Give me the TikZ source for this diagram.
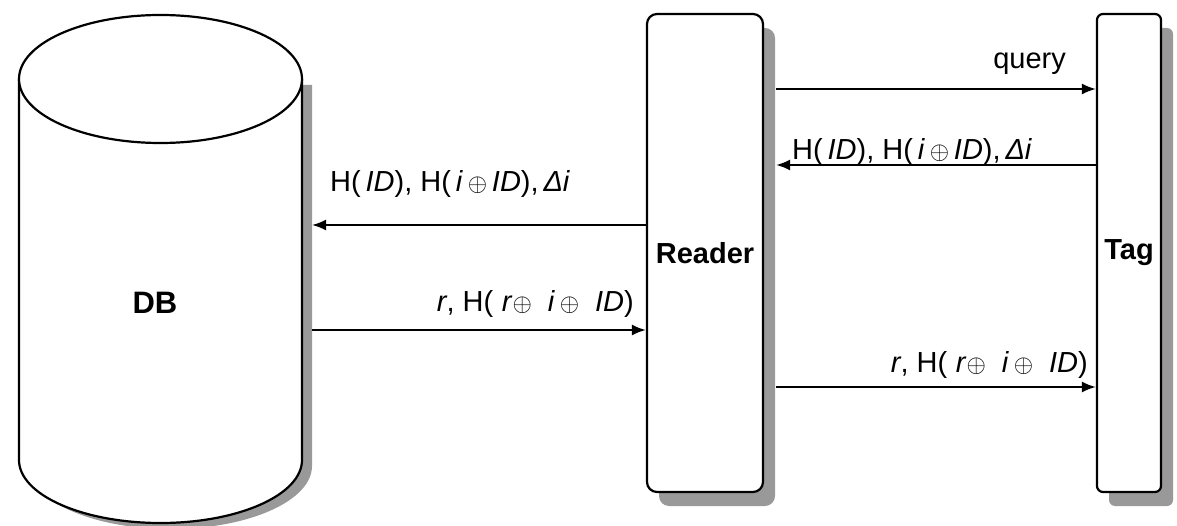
\documentclass[tikz,border=0pt]{standalone}
\usepackage{fontspec}
\setmainfont{Liberation Sans}
\usepackage{tikz}
\usetikzlibrary{positioning,calc,arrows.meta,shadows}

\tikzset{
    unit/.style={draw, line width=2.2pt, fill=white, minimum height=478pt, inner sep=0pt,
        font=\fontsize{29}{34}\selectfont\bfseries,
        drop shadow={shadow xshift=12pt, shadow yshift=-14pt, fill=black!40, opacity=1}},
    msg/.style={line width=2pt, -{Latex[length=14pt,width=11pt]}},
    lbl/.style={font=\fontsize{29}{34}\selectfont, inner sep=0pt}
}
\newcommand{\xo}{\,$\oplus$\,}
\newcommand{\gap}{\hspace{0.55em}}

\begin{document}
\begin{tikzpicture}[x=1pt,y=-1pt]
    \useasboundingbox (0,0) rectangle (1177,526);

    % database cylinder (shadow first)
    \fill[black!40, xshift=10pt, yshift=-6pt] (19,79) -- (19,460)
        arc[start angle=180, end angle=360, x radius=141.5pt, y radius=63pt] -- (302,79) -- cycle;
    \filldraw[fill=white, line width=2.2pt] (19,79) -- (19,460)
        arc[start angle=180, end angle=360, x radius=141.5pt, y radius=63pt] -- (302,79);
    \draw[line width=2.2pt, fill=white] (160.5,79) ellipse[x radius=141.5pt, y radius=64pt];
    \node[font=\fontsize{31}{36}\selectfont\bfseries] (db) at (155,303) {DB};
    \coordinate (dbs) at (312,303);

    \node[unit, rounded corners=10pt, minimum width=116pt] (reader) at (705,253) {Reader};
    \node[unit, rounded corners=6pt, minimum width=64pt] (tag) at (1129,253) {Tag};
    \coordinate (rs) at ([xshift=12pt]reader.east);

    % messages
    \draw[msg] (rs |- 0,89) -- (tag.west |- 0,89);
    \node[lbl, anchor=base east] (query) at (1066,69) {query};

    \draw[msg] (tag.west |- 0,165) -- (rs |- 0,165);
    \node[lbl, anchor=base west] (tagresp) at (792,160)
        {H(\,\textit{ID}), H(\,\textit{i}\xo\textit{ID}),\,\textit{Δi}};

    \draw[msg] (reader.west |- 0,225) -- (dbs |- 0,225);
    \node[lbl, anchor=base west] (fwd) at (330,192)
        {H(\,\textit{ID}), H(\,\textit{i}\xo\textit{ID}),\,\textit{Δi}};

    \draw[msg] (dbs |- 0,330) -- (reader.west |- 0,330);
    \node[lbl, anchor=base east] (dbresp) at (634,312)
        {\textit{r}, H(\hspace{.3em}\textit{r}$\oplus$\gap\textit{i}\,$\oplus$\gap\textit{ID})};

    \draw[msg] (rs |- 0,387) -- (tag.west |- 0,387);
    \node[lbl, anchor=base east] (rdresp) at (1088,372)
        {\textit{r}, H(\hspace{.3em}\textit{r}$\oplus$\gap\textit{i}\,$\oplus$\gap\textit{ID})};
\end{tikzpicture}
\end{document}
